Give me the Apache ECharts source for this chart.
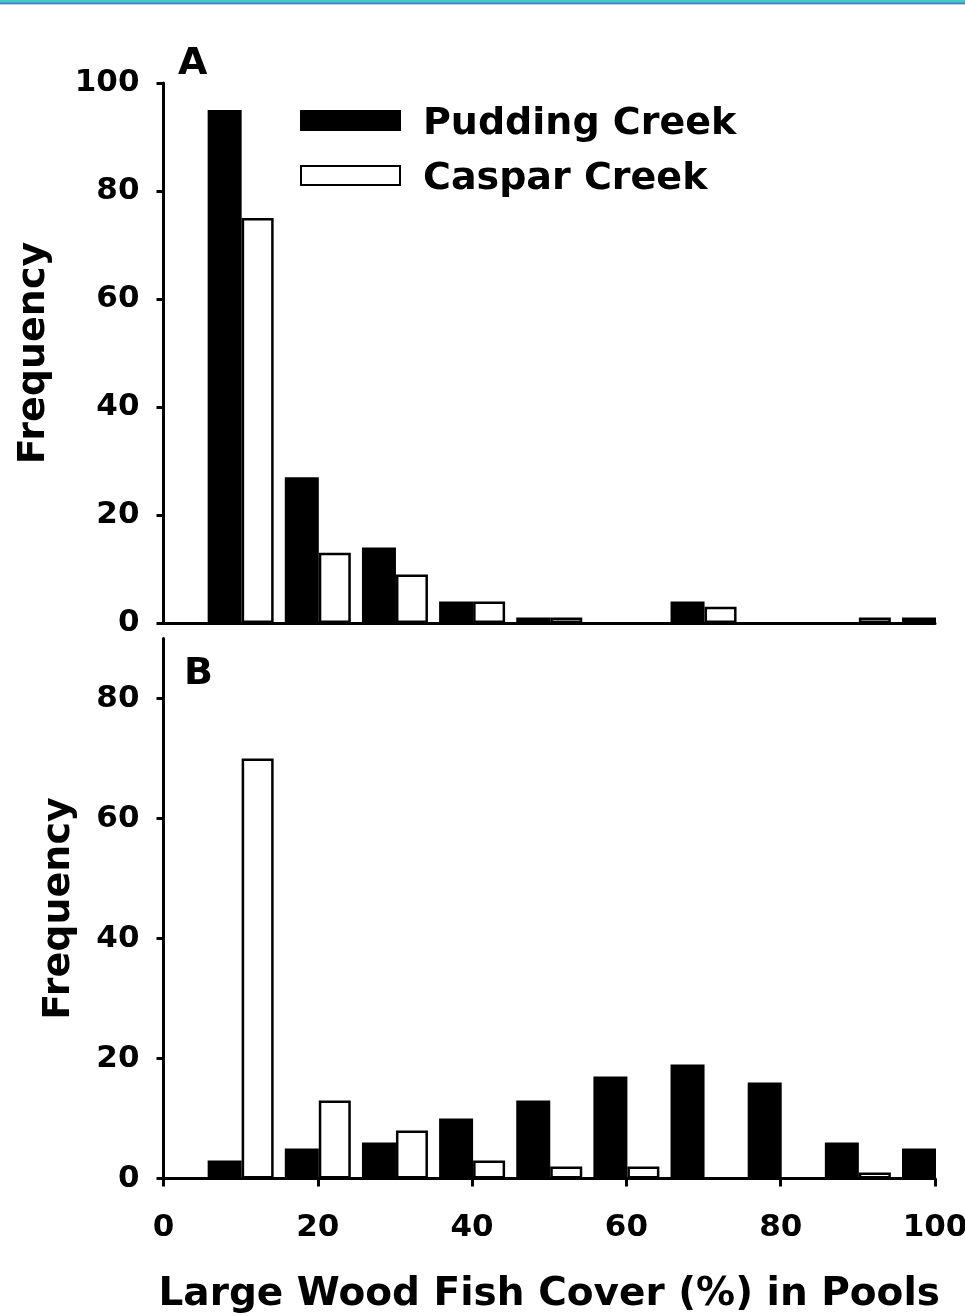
<!DOCTYPE html>
<html>
<head>
<meta charset="utf-8">
<script src="https://cdn.jsdelivr.net/npm/echarts@6/dist/echarts.min.js"></script>
<style>
html,body{margin:0;padding:0;background:#fff;}
#chart{width:965px;height:1316px;}
#stripe{position:absolute;left:0;top:0;width:965px;height:5px;
background:linear-gradient(to bottom,#46c8c8 0px,#46c8c8 2px,#3aa9c2 2px,#3aa9c2 3px,#4b82be 3px,#4b82be 4px,#b8cfe7 4px,#b8cfe7 5px);}
</style>
</head>
<body>
<div id="chart"></div>
<div id="stripe"></div>
<script>
// Bin centres (% large wood fish cover)
const bins = [10, 20, 30, 40, 50, 60, 70, 80, 90, 100];
// Panel A
const puddingA = [95, 27, 14, 4, 1, 0, 4, 0, 0, 1];
const casparA  = [75, 13, 9, 4, 1, 0, 3, 0, 1, 0];
// Panel B
const puddingB = [3, 5, 6, 10, 13, 17, 19, 16, 6, 5];
const casparB  = [70, 13, 8, 3, 2, 2, 0, 0, 1, 0];
const xTicks = [0, 20, 40, 60, 80, 100];
const yTicksA = [0, 20, 40, 60, 80, 100];
const yTicksB = [0, 20, 40, 60, 80];

const FONT = 'DejaVu Sans';
// zero-count bins have no visible bar (no outline drawn along the axis)
const pair = (xs, ys) => xs.map((x, i) => ys[i] === 0
  ? {value: [x, ys[i]], itemStyle: {borderWidth: 0, opacity: 0}}
  : [x, ys[i]]);

const axisLine = {show: true, lineStyle: {color: '#000', width: 3}};
const chart = echarts.init(document.getElementById('chart'), null, {renderer: 'canvas'});

const barBase = (name, color, xi, data, w) => ({
  type: 'bar', name: name, xAxisIndex: xi, yAxisIndex: xi,
  data: data, barWidth: w, barGap: '0%', clip: true,
  itemStyle: {color: color, borderColor: '#000', borderWidth: 2.5},
  emphasis: {disabled: true}, animation: false
});

const yLabel = (ticks) => ({fontFamily: FONT, fontWeight: 'bold', fontSize: 31, color: '#000', margin: 24,
  padding: [7, 0, 0, 0], customValues: ticks});

chart.setOption({
  animation: false,
  backgroundColor: '#fff',
  textStyle: {fontFamily: FONT, fontWeight: 'bold', color: '#000'},
  grid: [
    {left: 163.5, top: 83, width: 771.5, height: 540, outerBoundsMode: 'none', containLabel: false},
    {left: 163.5, top: 638.5, width: 771.5, height: 540, outerBoundsMode: 'none', containLabel: false}
  ],
  legend: {
    orient: 'vertical', left: 300, top: 105, padding: 0,
    itemWidth: 99, itemHeight: 19, itemGap: 17,
    icon: 'rect',
    data: ['Pudding Creek', 'Caspar Creek'],
    formatter: '{t|{name}}',
    textStyle: {
      fontFamily: FONT, fontWeight: 'bold', fontSize: 38, color: '#000',
      rich: {t: {fontFamily: FONT, fontWeight: 'bold', fontSize: 38, color: '#000', padding: [7, 0, 0, 18]}}
    },
    selectedMode: false
  },
  xAxis: [
    {type: 'value', gridIndex: 0, min: 0, max: 100, interval: 20,
     axisLine: axisLine, axisTick: {show: false}, axisLabel: {show: false}, splitLine: {show: false}},
    {type: 'value', gridIndex: 1, min: 0, max: 100, interval: 20,
     axisLine: axisLine,
     axisTick: {show: true, length: 8, inside: false, lineStyle: {color: '#000', width: 3}, customValues: xTicks},
     axisLabel: {fontFamily: FONT, fontWeight: 'bold', fontSize: 31, color: '#000', margin: 34, customValues: xTicks},
     splitLine: {show: false},
     name: 'Large Wood Fish Cover (%) in Pools', nameLocation: 'middle', nameGap: 97,
     nameTextStyle: {fontFamily: FONT, fontWeight: 'bold', fontSize: 39, color: '#000'}}
  ],
  yAxis: [
    {type: 'value', gridIndex: 0, min: 0, max: 100, interval: 20,
     axisLine: axisLine,
     axisTick: {show: true, length: 7, lineStyle: {color: '#000', width: 3}, customValues: yTicksA},
     axisLabel: yLabel(yTicksA),
     splitLine: {show: false},
     name: 'Frequency', nameLocation: 'middle', nameRotate: 90, nameGap: 110,
     nameTextStyle: {fontFamily: FONT, fontWeight: 'bold', fontSize: 38, color: '#000'}},
    {type: 'value', gridIndex: 1, min: 0, max: 90, interval: 20,
     axisLine: axisLine,
     axisTick: {show: true, length: 7, lineStyle: {color: '#000', width: 3}, customValues: yTicksB},
     axisLabel: yLabel(yTicksB),
     splitLine: {show: false},
     name: 'Frequency', nameLocation: 'middle', nameRotate: 90, nameGap: 85,
     nameTextStyle: {fontFamily: FONT, fontWeight: 'bold', fontSize: 38, color: '#000'}}
  ],
  graphic: [
    {type: 'text', left: 178, top: 45, style: {text: 'A', font: 'bold 38px "DejaVu Sans"', fill: '#000'}},
    {type: 'text', left: 184, top: 655, style: {text: 'B', font: 'bold 38px "DejaVu Sans"', fill: '#000'}}
  ],
  series: [
    barBase('Pudding Creek', '#000', 0, pair(bins, puddingA), 34),
    barBase('Caspar Creek', '#fff', 0, pair(bins, casparA), 32),
    barBase('Pudding Creek', '#000', 1, pair(bins, puddingB), 34),
    barBase('Caspar Creek', '#fff', 1, pair(bins, casparB), 32)
  ]
});
</script>
</body>
</html>
